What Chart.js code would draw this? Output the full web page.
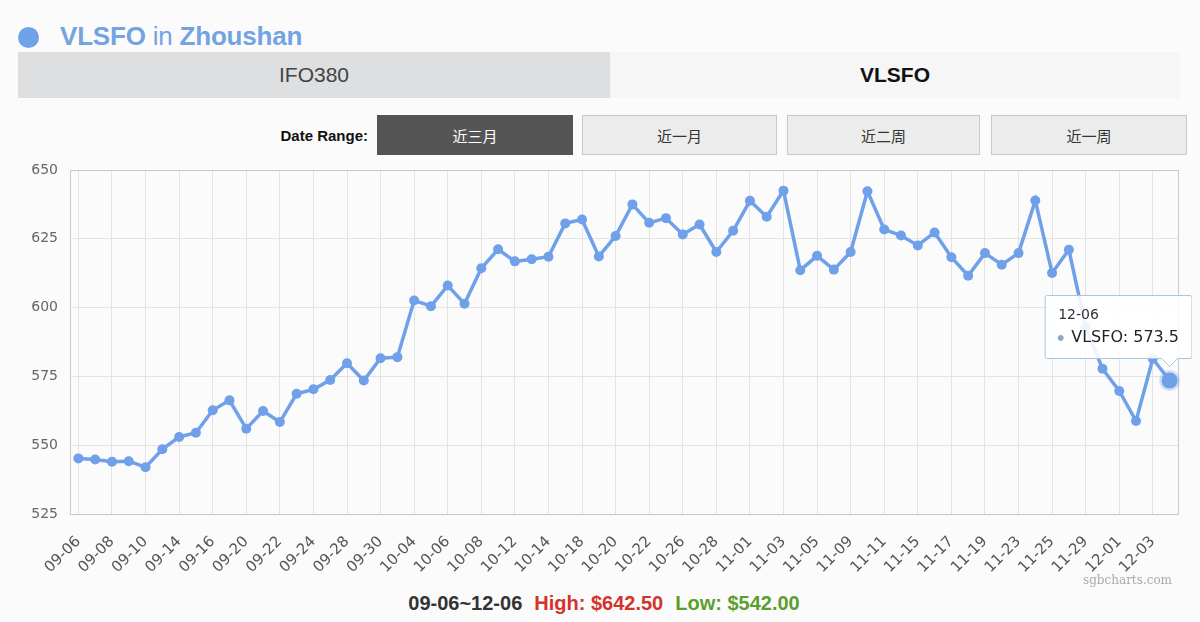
<!DOCTYPE html>
<html>
<head>
<meta charset="utf-8">
<script src="https://cdn.jsdelivr.net/npm/chart.js"></script>
<style>
  html,body{margin:0;padding:0;background:#fbfbfb;}
  body{width:1200px;height:622px;position:relative;overflow:hidden;font-family:"Liberation Sans",Arial,sans-serif;}
  .dot{position:absolute;left:18px;top:27px;width:21px;height:21px;border-radius:50%;background:#70a2ea;}
  .title{position:absolute;left:60px;top:21px;font-size:26px;font-weight:bold;color:#74a3e2;letter-spacing:-0.2px;}
  .title span{font-weight:normal;}
  .tab{position:absolute;top:52px;height:46px;line-height:46px;text-align:center;font-size:21px;}
  .tab.off{left:18px;width:592px;background:#dddfe0;color:#444;}
  .tab.on{left:610px;width:570px;background:#f6f6f6;color:#111;font-weight:bold;}
  .range{position:absolute;left:250px;top:127px;width:118px;text-align:right;font-size:15px;font-weight:bold;color:#111;}
  .btn{position:absolute;top:115px;height:40px;line-height:40px;text-align:center;font-size:15px;font-family:"Noto Sans CJK SC",sans-serif;box-sizing:border-box;border:1px solid #c8c8c8;background:#ececec;color:#333;}
  .btn.act{background:#555;border-color:#555;color:#fff;}
  #box{position:absolute;left:0;top:155px;width:1192px;height:429px;}
  .mark{position:absolute;left:1083px;top:573px;font-size:12px;color:#aaa;font-family:"DejaVu Serif",serif;}
  .foot{position:absolute;left:0;width:1208px;top:592px;text-align:center;font-size:20px;font-weight:bold;}
  .foot b{margin:0 6px;}
</style>
</head>
<body>

<div class="dot"></div>
<div class="title">VLSFO <span>in</span> Zhoushan</div>
<div class="tab off">IFO380</div>
<div class="tab on">VLSFO</div>
<div class="range">Date Range:</div>
<div class="btn act" style="left:377px;width:196px;">近三月</div>
<div class="btn" style="left:582px;width:195px;">近一月</div>
<div class="btn" style="left:787px;width:193px;">近二周</div>
<div class="btn" style="left:991px;width:196px;">近一周</div>

<div id="box"><canvas id="priceChart"></canvas></div>

<div class="mark">sgbcharts.com</div>
<div class="foot" id="foot"></div>

<script>

// ======================================
// Data
// ======================================

const dates = [
    "09-06","09-07","09-08","09-09","09-10","09-13","09-14","09-15","09-16","09-17",
    "09-20","09-21","09-22","09-23","09-24","09-27","09-28","09-29","09-30","10-01",
    "10-04","10-05","10-06","10-07","10-08","10-11","10-12","10-13","10-14","10-15",
    "10-18","10-19","10-20","10-21","10-22","10-25","10-26","10-27","10-28","10-29",
    "11-01","11-02","11-03","11-04","11-05","11-08","11-09","11-10","11-11","11-12",
    "11-15","11-16","11-17","11-18","11-19","11-22","11-23","11-24","11-25","11-26",
    "11-29","11-30","12-01","12-02","12-03","12-06"
];

const prices = [
    545.2,544.8,544.0,544.2,542.0,548.5,553.0,554.5,562.7,566.3,
    556.0,562.4,558.4,568.7,570.3,573.7,579.8,573.5,581.6,582.0,
    602.6,600.5,608.0,601.4,614.3,621.2,616.8,617.6,618.5,630.6,
    632.0,618.6,626.0,637.5,630.8,632.5,626.6,630.2,620.2,627.9,
    638.8,633.0,642.5,613.6,618.8,613.8,620.2,642.3,628.4,626.2,
    622.6,627.3,618.3,611.6,619.8,615.6,619.8,638.9,612.6,621.0,
    593.0,577.8,569.7,558.8,581.4,573.5
];

const yTicks = [525,550,575,600,625,650];

const rangeText = "09-06~12-06";
const highPrice = 642.50;
const lowPrice = 542.00;

const lineColor = "#6fa0e9";

// ======================================
// Footer
// ======================================

document.getElementById("foot").innerHTML =
    '<b style="color:#333">' + rangeText + '</b>' +
    '<b style="color:#d2332c">High: $' + highPrice.toFixed(2) + '</b>' +
    '<b style="color:#5c9e2c">Low: $' + lowPrice.toFixed(2) + '</b>';

// ======================================
// Plot frame
// ======================================

const framePlugin = {
    id:"frame",
    beforeDatasetsDraw(chart){
        const a = chart.chartArea;
        const c = chart.ctx;
        c.save();
        c.strokeStyle = "#c9c9c9";
        c.lineWidth = 1;
        c.strokeRect(a.left + 0.5, a.top + 0.5, a.right - a.left, a.bottom - a.top);
        c.restore();
    }
};

// ======================================
// Chart
// ======================================

const tickFont = { family:"'DejaVu Sans', sans-serif", size:15 };

const chart = new Chart(document.getElementById("priceChart"), {

    type:"line",

    data:{
        labels:dates,
        datasets:[{
            label:"VLSFO",
            data:prices,
            borderColor:lineColor,
            backgroundColor:lineColor,
            borderWidth:3.5,
            pointRadius:5,
            pointBackgroundColor:lineColor,
            pointBorderWidth:0,
            pointHoverRadius:8,
            pointHoverBorderWidth:5,
            pointHoverBackgroundColor:lineColor,
            pointHoverBorderColor:"rgba(111,160,233,0.3)",
            tension:0
        }]
    },

    options:{
        responsive:true,
        maintainAspectRatio:false,
        animation:false,
        events:[],
        layout:{ padding:{ left:0, top:15, right:14, bottom:0 } },

        scales:{
            x:{
                offset:true,
                afterFit(scale){
                    scale.height = 70;
                    scale.paddingLeft = 0;
                    scale.paddingRight = 0;
                },
                grid:{
                    drawTicks:false,
                    color:ctx => (ctx.index % 2 ? "rgba(0,0,0,0)" : "#e3e3e3")
                },
                border:{ display:false },
                ticks:{
                    autoSkip:false,
                    minRotation:45,
                    maxRotation:45,
                    padding:19,
                    color:"#555",
                    font:tickFont,
                    callback:function(v, i){
                        return i % 2 ? "" : this.getLabelForValue(v);
                    }
                }
            },
            y:{
                min:yTicks[0],
                max:yTicks[yTicks.length - 1],
                afterFit(scale){
                    scale.width = 70;
                    scale.paddingTop = 0;
                    scale.paddingBottom = 0;
                },
                afterBuildTicks(scale){
                    scale.ticks = yTicks.map(v => ({ value:v }));
                },
                grid:{ drawTicks:false, color:"#e3e3e3" },
                border:{ display:false },
                ticks:{
                    padding:12,
                    color:"#666",
                    font:{ family:"'DejaVu Sans', sans-serif", size:14 }
                }
            }
        },

        plugins:{
            legend:{ display:false },
            tooltip:{
                xAlign:"center",
                yAlign:"bottom",
                backgroundColor:"rgba(255,255,255,0.88)",
                borderColor:"#a9c5e0",
                borderWidth:1,
                cornerRadius:2,
                caretSize:8,
                caretPadding:14,
                padding:{ left:13, right:13, top:11, bottom:11 },
                titleColor:"#333",
                bodyColor:"#222",
                titleFont:{ family:"'DejaVu Sans', sans-serif", size:14, weight:"normal" },
                bodyFont:{ family:"'DejaVu Sans', sans-serif", size:16 },
                titleMarginBottom:5,
                displayColors:true,
                usePointStyle:true,
                boxWidth:5,
                boxHeight:5,
                boxPadding:6,
                callbacks:{
                    label:ctx => "VLSFO: " + ctx.parsed.y,
                    labelColor:() => ({ borderColor:"#8ba6c9", backgroundColor:"#8ba6c9" })
                }
            }
        }
    },

    plugins:[framePlugin]

});

// ======================================
// Show last-point tooltip
// ======================================

const last = prices.length - 1;
const pt = chart.getDatasetMeta(0).data[last];

chart.setActiveElements([{ datasetIndex:0, index:last }]);
chart.tooltip.setActiveElements([{ datasetIndex:0, index:last }], { x:pt.x, y:pt.y });
chart.update();

</script>
</body>
</html>
